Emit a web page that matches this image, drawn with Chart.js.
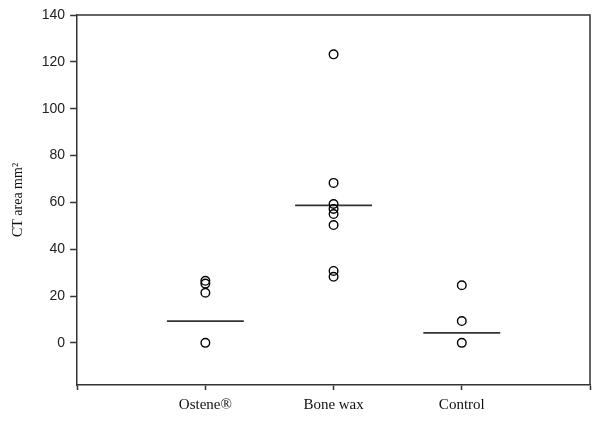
<!DOCTYPE html>
<html>
<head>
<meta charset="utf-8">
<script src="https://cdn.jsdelivr.net/npm/chart.js@4"></script>
<style>
  html, body { margin: 0; padding: 0; background: #fff; }
  #wrap { width: 600px; height: 425px; }
</style>
</head>
<body>
<div id="wrap"><canvas id="c" width="600" height="425"></canvas></div>
<script>
// ---- data ----
const categories = ["Ostene\u00AE", "Bone wax", "Control"];
const osteneValues = [26.5, 25.3, 21.4, 0];
const boneWaxValues = [123.2, 68.3, 59.3, 57.2, 55.0, 50.3, 30.7, 28.2];
const controlValues = [24.6, 9.3, 0];
const centerLines = [9.3, 58.7, 4.3];
const yTickValues = [0, 20, 40, 60, 80, 100, 120, 140];
const yTitle = "CT area mm\u00B2";

// ---- build datasets ----
const groups = [osteneValues, boneWaxValues, controlValues];
const pointData = [];
groups.forEach((vals, i) => vals.forEach(v => pointData.push({ x: i + 1, y: v })));

const halfW = 0.3;
const lineDatasets = centerLines.map((v, i) => ({
  type: 'line',
  data: [{ x: i + 1 - halfW, y: v }, { x: i + 1 + halfW, y: v }],
  borderColor: '#333',
  borderWidth: 1.8,
  pointRadius: 0,
  fill: false
}));

const framePlugin = {
  id: 'frame',
  afterDraw(chart) {
    const { ctx, chartArea: a } = chart;
    ctx.save();
    ctx.strokeStyle = '#333';
    ctx.lineWidth = 1.5;
    ctx.beginPath();
    ctx.moveTo(a.left, a.top);
    ctx.lineTo(a.right, a.top);
    ctx.lineTo(a.right, a.bottom);
    ctx.stroke();
    ctx.restore();
  }
};

new Chart(document.getElementById('c'), {
  type: 'scatter',
  data: {
    datasets: [
      {
        data: pointData,
        pointStyle: 'circle',
        pointRadius: 4.3,
        pointBorderWidth: 1.4,
        pointBorderColor: '#000',
        pointBackgroundColor: 'rgba(0,0,0,0)'
      },
      ...lineDatasets
    ]
  },
  options: {
    responsive: false,
    animation: false,
    layout: { padding: { top: 15, right: 10, left: 10, bottom: 5 } },
    plugins: { legend: { display: false }, tooltip: { enabled: false } },
    scales: {
      x: {
        type: 'linear',
        min: 0,
        max: 4,
        afterBuildTicks: s => { s.ticks = [0, 1, 2, 3, 4].map(v => ({ value: v })); },
        ticks: {
          autoSkip: false,
          maxRotation: 0,
          padding: 6,
          color: '#111',
          font: { family: 'Liberation Serif', size: 15 },
          callback: v => (v >= 1 && v <= categories.length ? categories[v - 1] : '')
        },
        grid: { display: true, drawOnChartArea: false, drawTicks: true, tickLength: 5, color: '#333', tickWidth: 1.5 },
        border: { display: true, color: '#333', width: 1.5 }
      },
      y: {
        type: 'linear',
        min: -18,
        max: 140,
        afterBuildTicks: s => { s.ticks = yTickValues.map(v => ({ value: v })); },
        ticks: {
          padding: 5,
          color: '#222',
          font: { family: 'Liberation Sans', size: 14 }
        },
        title: {
          display: true,
          text: yTitle,
          color: '#111',
          font: { family: 'Liberation Serif', size: 14 },
          padding: { top: 0, bottom: 10 }
        },
        grid: { display: true, drawOnChartArea: false, drawTicks: true, tickLength: 7, color: '#333', tickWidth: 1.5 },
        border: { display: true, color: '#333', width: 1.5 }
      }
    }
  },
  plugins: [framePlugin]
});
</script>
</body>
</html>
